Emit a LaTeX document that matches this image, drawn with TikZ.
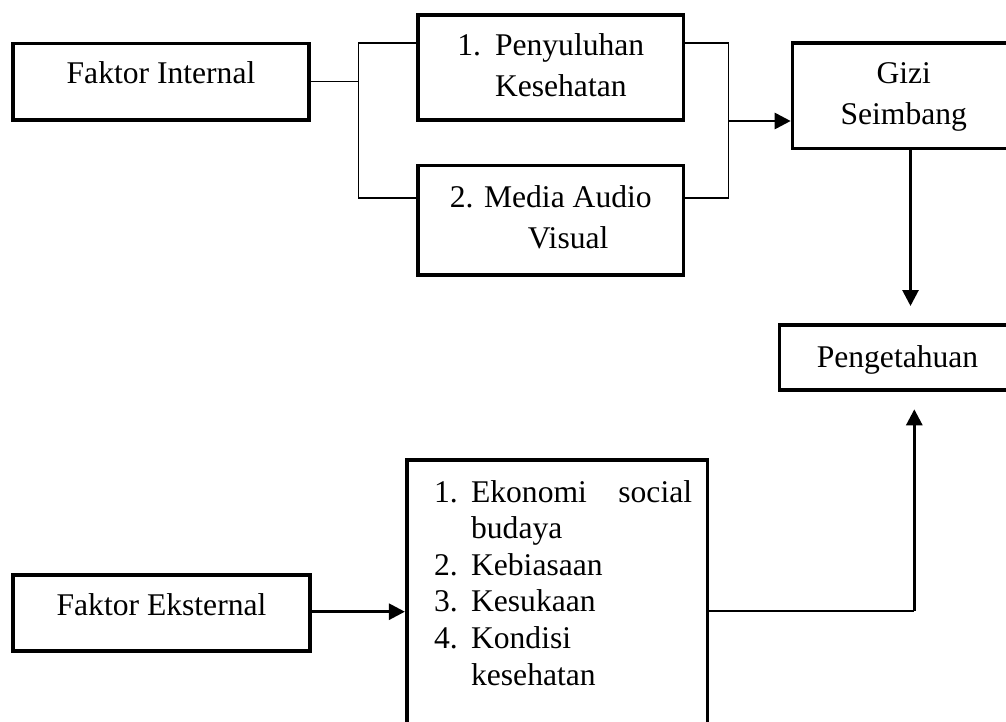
\documentclass[tikz,border=0pt]{standalone}
\usepackage{fontspec}
\setmainfont{Liberation Serif}
\usetikzlibrary{arrows.meta}
\tikzset{
  box/.style={draw, line width=3.6pt, inner sep=0pt, outer sep=1.8pt,
    font=\fontsize{31.6}{41}\selectfont},
  wire/.style={line width=1.3pt},
  arr/.style={line width=2.8pt, -{Triangle[length=16pt,width=16pt]}},
}
\begin{document}
\begin{tikzpicture}[x=1pt,y=-1pt]
\useasboundingbox (0,0) rectangle (1006,722);

% boxes
\node[box, minimum width=296pt, minimum height=76.5pt, text height=20pt, text depth=15.4pt]
  (fi) at (161,81.7) {Faktor Internal};
\node[box, minimum width=265.5pt, minimum height=105pt]
  (p1) at (550.75,67.5) {\begin{tabular}{@{}l@{\hspace{14pt}}l@{}}1. & Penyuluhan\\ & Kesehatan\end{tabular}};
\node[box, minimum width=265.5pt, minimum height=109.5pt]
  (p2) at (550.75,220.25) {\begin{tabular}{@{}l@{}}2. Media Audio\\ \hspace*{78pt}Visual\end{tabular}};
\node[box, minimum width=222.5pt, minimum height=105.7pt]
  (gz) at (903.75,95.8) {\begin{tabular}{@{}c@{}}Gizi\\ Seimbang\end{tabular}};
\node[box, minimum width=236.4pt, minimum height=65pt, text height=24pt, text depth=5pt]
  (pg) at (897.5,357.5) {Pengetahuan};
\node[box, minimum width=297pt, minimum height=76.5pt, text height=20pt, text depth=16pt]
  (fe) at (161.5,613) {Faktor Eksternal};
\node[box, minimum width=300.8pt, minimum height=289pt, font=\fontsize{31.6}{36.6}\selectfont]
  (lb) at (557.1,604.5) {\begin{tabular}{@{\hspace{12pt}}l@{\hspace{13.3pt}}l@{}}
    1. & \makebox[221pt][s]{Ekonomi social}\\
       & budaya\\
    2. & Kebiasaan\\
    3. & Kesukaan\\
    4. & Kondisi\\
       & kesehatan\\
       & \end{tabular}};

% junction coordinates
\coordinate (jl)  at (358.3,81.7);
\coordinate (jlt) at (358.3,43);
\coordinate (jlb) at (358.3,198);
\coordinate (jrt) at (728.3,43);
\coordinate (jrb) at (728.3,198);
\coordinate (ja)  at (728.3,121);
\coordinate (dx)  at (910.5,306);
\coordinate (ux)  at (914.3,409.3);
\coordinate (uc)  at (914.3,611);
\coordinate (ea)  at (0,611.7);

% connectors
\draw[wire] (fi.east) -- (jl);
\draw[wire] (jlt -| p1.west) -- (jlt) -- (jlb) -- (jlb -| p2.west);
\draw[wire] (jrt -| p1.east) -- (jrt) -- (jrb) -- (jrb -| p2.east);
\draw[arr] (ja) -- (ja -| gz.west);
\draw[arr] (dx |- gz.south) -- (dx);
\draw[wire] (uc -| lb.east) -- (uc);
\draw[arr] (uc) -- (ux);
\draw[arr] (ea -| fe.east) -- (ea -| lb.west);
\end{tikzpicture}
\end{document}
